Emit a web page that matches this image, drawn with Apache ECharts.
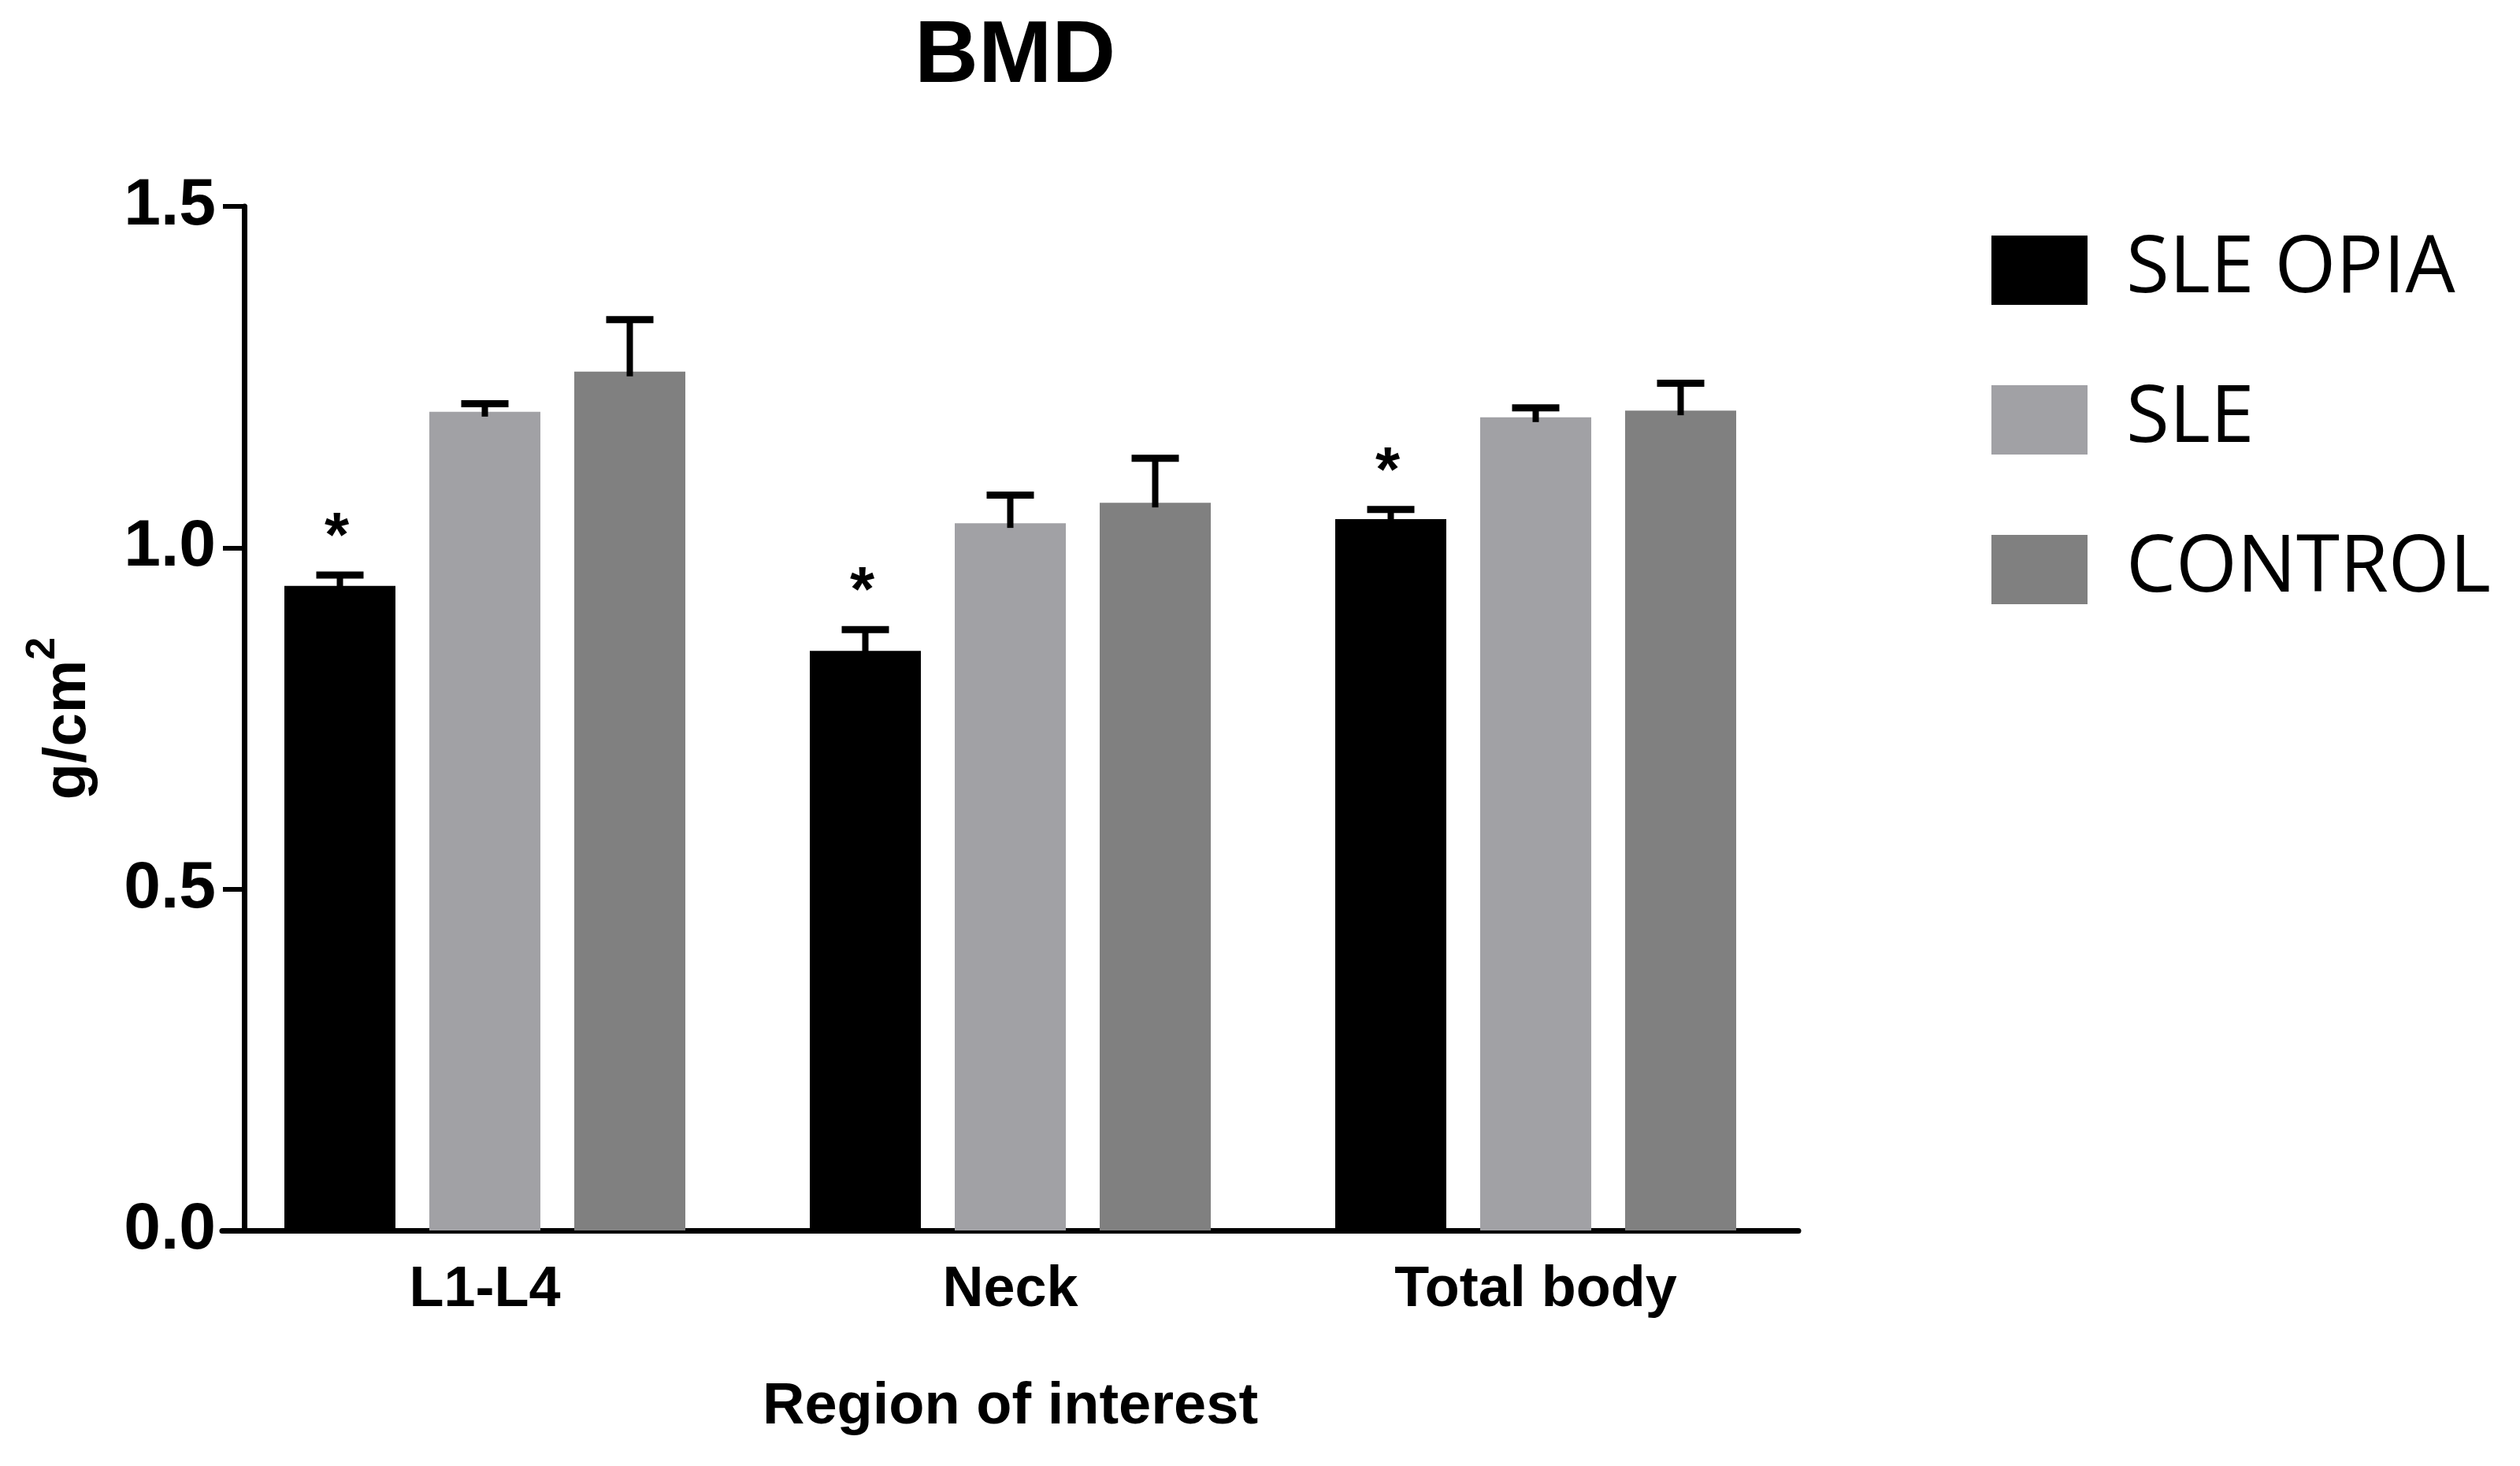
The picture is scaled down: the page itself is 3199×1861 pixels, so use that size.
<!DOCTYPE html>
<html>
<head>
<meta charset="utf-8">
<script src="https://cdn.jsdelivr.net/npm/echarts@6/dist/echarts.min.js"></script>
<style>
html,body{margin:0;padding:0;background:#fff;}
#chart{width:3199px;height:1861px;}
</style>
</head>
<body>
<div id="chart"></div>
<script>
const categories = ['L1-L4', 'Neck', 'Total body'];
const seriesNames = ['SLE OPIA', 'SLE', 'CONTROL'];
const sleOpiaMean = [0.944, 0.849, 1.042];
const sleOpiaUpper = [0.960, 0.880, 1.056];
const sleMean = [1.199, 1.036, 1.191];
const sleUpper = [1.211, 1.077, 1.205];
const controlMean = [1.258, 1.066, 1.201];
const controlUpper = [1.334, 1.131, 1.241];
const sleOpiaSig = ['*', '*', '*'];
const sleSig = ['', '', ''];
const controlSig = ['', '', ''];
const yMin = 0, yMax = 1.5, yStep = 0.5;

const FONT = '"Liberation Sans", Arial, sans-serif';
const colors = ['#000000', '#a1a1a5', '#808080'];
const BAR_W = 141;
const BAR_GAP = 43;

const means = [sleOpiaMean, sleMean, controlMean];
const uppers = [sleOpiaUpper, sleUpper, controlUpper];
const sigs = [sleOpiaSig, sleSig, controlSig];

const chart = echarts.init(document.getElementById('chart'));

function makeErr(k) {
  return {
    type: 'custom',
    name: seriesNames[k] + ' err',
    z: 5,
    silent: true,
    encode: { x: 0, y: [1, 2] },
    data: categories.map((c, i) => [i, means[k][i], uppers[k][i], sigs[k][i]]),
    renderItem: function (params, api) {
      const i = api.value(0);
      const p0 = api.coord([i, api.value(1)]);
      const p1 = api.coord([i, api.value(2)]);
      const x = p0[0] + (k - 1) * (BAR_W + BAR_GAP);
      const children = [
        { type: 'line', shape: { x1: x, y1: p0[1] + 6, x2: x, y2: p1[1] }, style: { stroke: '#000', lineWidth: 8 } },
        { type: 'line', shape: { x1: x - 30, y1: p1[1], x2: x + 30, y2: p1[1] }, style: { stroke: '#000', lineWidth: 9 } }
      ];
      const s = sigs[k][params.dataIndex];
      if (s) {
        children.push({
          type: 'text',
          style: { text: s, x: x - 4, y: p1[1] - 46, align: 'center', verticalAlign: 'middle',
                   fontSize: 80, fontWeight: 'bold', fontFamily: FONT, fill: '#000' }
        });
      }
      return { type: 'group', children: children };
    }
  };
}

const barSeries = seriesNames.map((n, k) => ({
  type: 'bar',
  name: n,
  data: means[k],
  barWidth: BAR_W,
  barGap: (BAR_GAP / BAR_W * 100).toFixed(1) + '%',
  itemStyle: { color: colors[k] },
  z: 2
}));

const option = {
  backgroundColor: '#ffffff',
  animation: false,
  title: {
    text: 'BMD',
    left: 1156,
    top: 12,
    textStyle: { fontSize: 112, fontWeight: 'bold', fontFamily: FONT, color: '#000' }
  },
  legend: {
    orient: 'vertical',
    left: 2523,
    top: 288,
    itemWidth: 122,
    itemHeight: 88,
    itemGap: 90,
    icon: 'rect',
    data: seriesNames,
    textStyle: { fontSize: 100, fontFamily: '"Open Sans", sans-serif', color: '#000', lineHeight: 88, padding: [0, 0, 0, 44] }
  },
  grid: { left: 282, width: 2001, top: 262, height: 1300 },
  xAxis: {
    type: 'category',
    data: categories,
    name: 'Region of interest',
    nameLocation: 'middle',
    nameGap: 188,
    nameTextStyle: { fontSize: 74, fontWeight: 'bold', fontFamily: FONT, color: '#000' },
    axisLine: { lineStyle: { color: '#000', width: 7 } },
    axisTick: { alignWithLabel: true, length: 26, lineStyle: { color: '#000', width: 5 } },
    axisLabel: { fontSize: 72, fontWeight: 'bold', fontFamily: FONT, color: '#000', margin: 40 },
    splitLine: { show: false }
  },
  yAxis: {
    type: 'value',
    min: yMin, max: yMax, interval: yStep,
    offset: -28,
    name: '{a|g/cm}{b|2}',
    nameLocation: 'middle',
    nameGap: 165,
    nameTextStyle: {
      rich: {
        a: { fontSize: 76, fontWeight: 'bold', fontFamily: FONT, color: '#000' },
        b: { fontSize: 52, fontWeight: 'bold', fontFamily: FONT, color: '#000', padding: [0, 0, 64, 0] }
      }
    },
    axisLine: { show: true, lineStyle: { color: '#000', width: 7 } },
    axisTick: { show: true, length: 27, lineStyle: { color: '#000', width: 6 } },
    axisLabel: { fontSize: 84, fontWeight: 'bold', fontFamily: FONT, color: '#000', margin: 36,
                 formatter: v => v.toFixed(1) },
    splitLine: { show: false }
  },
  series: barSeries.concat([0, 1, 2].map(makeErr))
};
chart.setOption(option);
</script>
</body>
</html>
